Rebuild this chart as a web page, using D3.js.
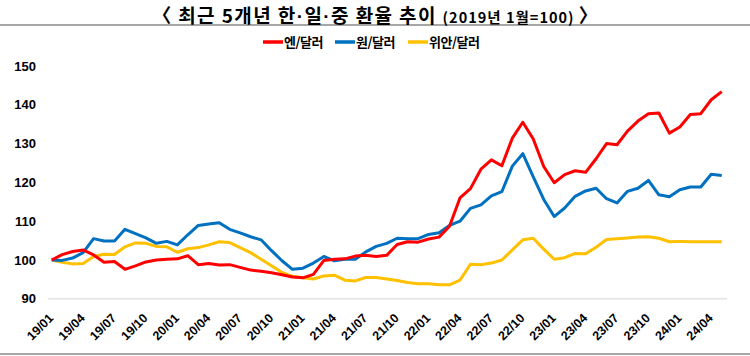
<!DOCTYPE html>
<html><head><meta charset="utf-8">
<script src="https://cdn.jsdelivr.net/npm/d3@7"></script>
<style>
html,body{margin:0;padding:0;background:#fff;}
svg{display:block;}
</style></head>
<body>
<svg id="chart" width="750" height="356"></svg>
<script>
const months = ["19/01","19/02","19/03","19/04","19/05","19/06","19/07","19/08","19/09","19/10","19/11","19/12",
"20/01","20/02","20/03","20/04","20/05","20/06","20/07","20/08","20/09","20/10","20/11","20/12",
"21/01","21/02","21/03","21/04","21/05","21/06","21/07","21/08","21/09","21/10","21/11","21/12",
"22/01","22/02","22/03","22/04","22/05","22/06","22/07","22/08","22/09","22/10","22/11","22/12",
"23/01","23/02","23/03","23/04","23/05","23/06","23/07","23/08","23/09","23/10","23/11","23/12",
"24/01","24/02","24/03","24/04","24/05"];
const tickLabels = ["19/01","19/04","19/07","19/10","20/01","20/04","20/07","20/10","21/01","21/04","21/07","21/10",
"22/01","22/04","22/07","22/10","23/01","23/04","23/07","23/10","24/01","24/04"];
const yTicks = [90,100,110,120,130,140,150];
const seriesNames = ["엔/달러","원/달러","위안/달러"];
const seriesColors = ["#FF0000","#0070C0","#FFC000"];
const jpy = [100,101.4,102.2,102.6,101.3,99.4,99.6,97.6,98.5,99.5,100.0,100.2,
100.3,101.1,98.8,99.1,98.7,98.8,98.1,97.4,97.1,96.7,96.2,95.6,
95.4,96.3,99.9,100.2,100.3,101.0,101.2,100.9,101.2,104.0,104.7,104.6,
105.4,105.9,108.7,116.0,118.4,123.4,125.8,124.3,131.4,135.5,131.2,124.1,
119.9,122.0,123.0,122.6,126.1,130.0,129.7,133.2,135.8,137.7,137.9,132.7,
134.3,137.5,137.7,141.3,143.4];
const krw = [100,99.9,100.5,101.9,105.5,104.9,104.9,107.9,106.8,105.7,104.3,104.8,
103.9,106.5,108.9,109.3,109.6,107.9,107.0,106.0,105.2,102.4,99.8,97.6,
97.9,99.2,100.9,99.8,100.2,100.2,102.1,103.5,104.3,105.6,105.5,105.5,
106.6,107.0,108.9,110.0,113.3,114.2,116.5,117.6,124.2,127.4,121.4,115.6,
111.2,113.4,116.4,117.8,118.5,115.8,114.7,117.7,118.5,120.5,116.8,116.3,
118.1,118.8,118.8,122.1,121.8];
const cny = [100,99.4,99.0,99.1,100.9,101.5,101.4,103.4,104.4,104.3,103.5,103.4,
102.0,102.9,103.2,103.9,104.7,104.5,103.2,101.9,100.2,98.5,96.8,95.8,
95.4,95.1,95.9,96.1,94.8,94.6,95.5,95.5,95.1,94.7,94.2,93.9,
93.9,93.6,93.6,94.8,98.9,98.8,99.2,100.0,102.6,105.2,105.6,102.8,
100.2,100.6,101.7,101.6,103.3,105.3,105.5,105.7,105.9,106.0,105.6,104.7,
104.8,104.7,104.7,104.7,104.7];
const seriesData = [jpy, krw, cny];

const svg = d3.select("#chart");
const W = 750, H = 356;

// frame lines
svg.append("line").attr("x1",0).attr("x2",W).attr("y1",25).attr("y2",25)
  .attr("stroke","#a6a6a6").attr("stroke-width",2);
svg.append("line").attr("x1",0).attr("x2",W).attr("y1",354).attr("y2",354)
  .attr("stroke","#a6a6a6").attr("stroke-width",2);

// title
const cjk = "'Noto Sans CJK KR', sans-serif";
const title = svg.append("text").attr("x",375).attr("y",22.5).attr("text-anchor","middle")
  .attr("font-family",cjk).attr("font-weight",700).attr("fill","#000");
const mainParts = [["〈 최근 5개년 한",cjk],["·","'Liberation Sans', sans-serif"],["일",cjk],["·","'Liberation Sans', sans-serif"],["중 환율 추이 ",cjk]];
mainParts.forEach(p=>{
  title.append("tspan").attr("font-size","19px").attr("font-family",p[1])
    .attr("letter-spacing","1.4px").text(p[0]);
});
title.append("tspan").attr("font-size","14.5px").attr("letter-spacing","1px").text("(2019년 1월=100)");
title.append("tspan").attr("font-size","19px").text(" 〉");

// legend
const legendX = [263, 335, 408];
seriesNames.forEach((n,i)=>{
  const g = svg.append("g").attr("transform",`translate(${legendX[i]},42)`);
  g.append("line").attr("x1",0).attr("x2",20).attr("y1",0).attr("y2",0)
    .attr("stroke",seriesColors[i]).attr("stroke-width",3.5);
  g.append("text").attr("x",21).attr("y",5).attr("font-size","13px")
    .attr("font-family",cjk).attr("font-weight",700)
    .attr("letter-spacing","-0.5px").text(n);
});

const x = d3.scalePoint().domain(months).range([51.7, 721.7]);
const y = d3.scaleLinear().domain([90,150]).range([298.8, 66]);

// baseline gridline
svg.append("line").attr("x1",48).attr("x2",727).attr("y1",y(90)).attr("y2",y(90))
  .attr("stroke","#e3e3e3").attr("stroke-width",1.5);

// y axis
const yAxis = svg.append("g").attr("transform","translate(36,0)")
  .call(d3.axisLeft(y).tickValues(yTicks).tickSize(0).tickPadding(0));
yAxis.select(".domain").remove();
yAxis.selectAll("text").attr("font-family","'Liberation Sans', Arial, sans-serif")
  .attr("font-weight",700).attr("font-size","13px").attr("fill","#000");

// x axis
const xAxis = svg.append("g").attr("transform",`translate(0,${y(90)})`)
  .call(d3.axisBottom(x).tickValues(tickLabels).tickSize(0).tickPadding(0));
xAxis.select(".domain").remove();
xAxis.selectAll("text").attr("font-family","'Liberation Sans', Arial, sans-serif")
  .attr("font-weight",700).attr("font-size","12.5px").attr("fill","#000")
  .attr("text-anchor","end").attr("dy",null).attr("y",null)
  .attr("transform","translate(2,20) rotate(-45)");

// lines (draw yellow first, then blue, then red on top)
const line = d3.line().x((d,i)=>x(months[i])).y(d=>y(d));
[2,1,0].forEach(k=>{
  svg.append("path").datum(seriesData[k]).attr("d",line)
    .attr("fill","none").attr("stroke",seriesColors[k]).attr("stroke-width",3)
    .attr("stroke-linejoin","round");
});
</script>
</body></html>
